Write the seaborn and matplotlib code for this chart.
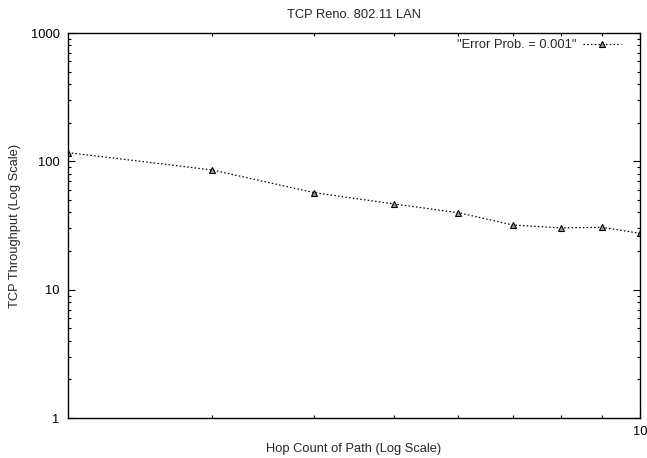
import numpy as np
import pandas as pd
import matplotlib
matplotlib.use('Agg')
import matplotlib.pyplot as plt
import seaborn as sns
from matplotlib.ticker import LogLocator, NullFormatter, FixedLocator

# Data
hop_count = [2, 3, 4, 5, 6, 7, 8, 9, 10]
throughput = [117, 85.7, 57, 46.6, 39.8, 31.9, 30.3, 30.6, 27.5]
series_name = '"Error Prob. = 0.001"'

df = pd.DataFrame({'hops': hop_count, 'tput': throughput})

sns.set_style('ticks')
plt.rcParams['font.family'] = ['Liberation Sans', 'DejaVu Sans']
fs = 9.3

fig = plt.figure(figsize=(6.47, 4.58), dpi=100)
ax = fig.add_axes([0.1051, 0.0873, 0.8839, 0.8406])

sns.lineplot(data=df, x='hops', y='tput', ax=ax, color='black', linestyle=(0, (1.2, 1.8)),
             linewidth=0.9, marker='^', markersize=5, markerfacecolor='#999999',
             markeredgecolor='black', markeredgewidth=0.8, label=series_name)

ax.set_xscale('log')
ax.set_yscale('log')
ax.set_xlim(2, 10)
ax.set_ylim(1, 1000)

ax.xaxis.set_major_locator(FixedLocator([10]))
ax.xaxis.set_major_formatter(plt.FuncFormatter(lambda v, p: '%d' % v))
ax.xaxis.set_minor_locator(FixedLocator([3, 4, 5, 6, 7, 8, 9]))
ax.xaxis.set_minor_formatter(NullFormatter())
ax.yaxis.set_major_locator(FixedLocator([1, 10, 100, 1000]))
ax.yaxis.set_major_formatter(plt.FuncFormatter(lambda v, p: '%d' % v))
ax.yaxis.set_minor_locator(LogLocator(base=10, subs=np.arange(2, 10)))
ax.yaxis.set_minor_formatter(NullFormatter())

ax.tick_params(which='both', direction='in', top=True, right=True, width=0.8, color='black',
               labelsize=fs, labelcolor='black')
ax.tick_params(which='major', length=5, pad=6)
ax.tick_params(which='minor', length=2.5)
for s in ax.spines.values():
    s.set_linewidth(1.0)
    s.set_color('black')

ax.set_title('TCP Reno. 802.11 LAN', fontsize=fs, pad=11)
ax.set_xlabel('Hop Count of Path (Log Scale)', fontsize=fs, labelpad=3)
ax.set_ylabel('TCP Throughput (Log Scale)', fontsize=fs, labelpad=7)

ax.legend(loc='upper right', bbox_to_anchor=(0.972, 0.99), frameon=False, markerfirst=False,
          fontsize=fs, handlelength=3.0, borderaxespad=0.0, borderpad=0.2, handletextpad=0.5)

fig.savefig('out.png', dpi=100)
